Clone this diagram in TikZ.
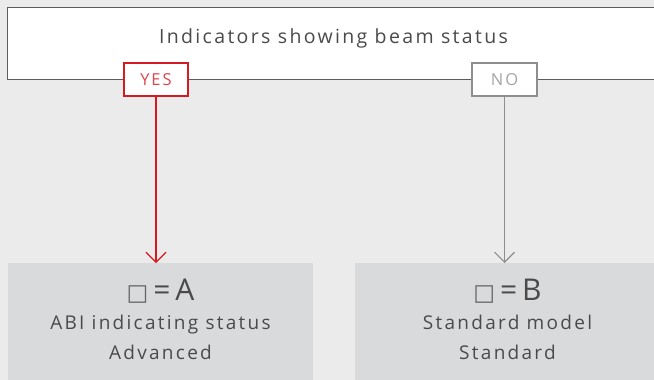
\documentclass[tikz,border=0pt]{standalone}
\usepackage{fontspec}
\setmainfont[LetterSpace=12]{Open Sans}
\newfontfamily\symfont{DejaVu Sans}
\usetikzlibrary{arrows.meta}
\definecolor{bg}{HTML}{EBEBEB}
\definecolor{boxgray}{HTML}{D9DADC}
\definecolor{txt}{HTML}{4A4A4A}
\definecolor{yesred}{HTML}{D71A21}
\definecolor{yestxt}{HTML}{E0454B}
\definecolor{nogray}{HTML}{8E8E8E}
\definecolor{notxt}{HTML}{A5A5A5}
\tikzset{
  topbox/.style={draw=txt!90, line width=0.9pt, fill=white, anchor=north west, inner sep=0pt},
  yesbox/.style={draw=yesred, line width=1.4pt, fill=white, minimum width=64pt, minimum height=33pt, inner sep=0pt, text=yestxt, font=\fontsize{16.5}{18}\selectfont},
  nobox/.style={draw=nogray, line width=1.4pt, fill=white, minimum width=65pt, minimum height=33pt, inner sep=0pt, text=notxt, font=\fontsize{16.5}{18}\selectfont},
  resbox/.style={fill=boxgray, anchor=north west, inner sep=0pt, minimum height=140pt, minimum width=305pt},
  label/.style={text=txt, font=\fontsize{19}{30}\selectfont, align=center},
  bigl/.style={text=txt, font=\fontsize{30}{34}\selectfont},
  yesarrow/.style={draw=yesred, line width=1.1pt, -{Straight Barb[length=10pt,width=20pt,line width=1.1pt]}},
  noarrow/.style={draw=nogray, line width=1.1pt, -{Straight Barb[length=10pt,width=20pt,line width=1.1pt]}},
}
\begin{document}
\begin{tikzpicture}[x=1pt,y=-1pt]
\fill[bg] (0,0) rectangle (654,380);
\useasboundingbox (0,0) rectangle (654,380);
\node[topbox, minimum width=660pt, minimum height=72pt] (top) at (7,7) {};
\node[text=txt, font=\fontsize{19.5}{22}\selectfont] (title) at (333.5,38.5) {Indicators showing beam status};
\node[resbox] (left) at (8,263) {};
\node[resbox, minimum width=310pt] (right) at (355,263) {};
\node[yesbox] (yes) at (156,79.5) {YES};
\node[nobox] (no) at (504.5,79.5) {NO};
\draw[yesarrow] (yes.south) -- (yes.south |- left.north);
\draw[noarrow] (no.south) -- (no.south |- right.north);
\node[bigl] (eqa) at (160.5,291) {{\symfont\fontsize{23}{28}\selectfont\color{txt!85} □}\,=\,A};
\node[label] (lta) at (160.5,337) {ABI indicating status\\Advanced};
\node[bigl] (eqb) at (507.5,291) {{\symfont\fontsize{23}{28}\selectfont\color{txt!85} □}\,=\,B};
\node[label] (ltb) at (507.5,337) {Standard model\\Standard};
\end{tikzpicture}
\end{document}
